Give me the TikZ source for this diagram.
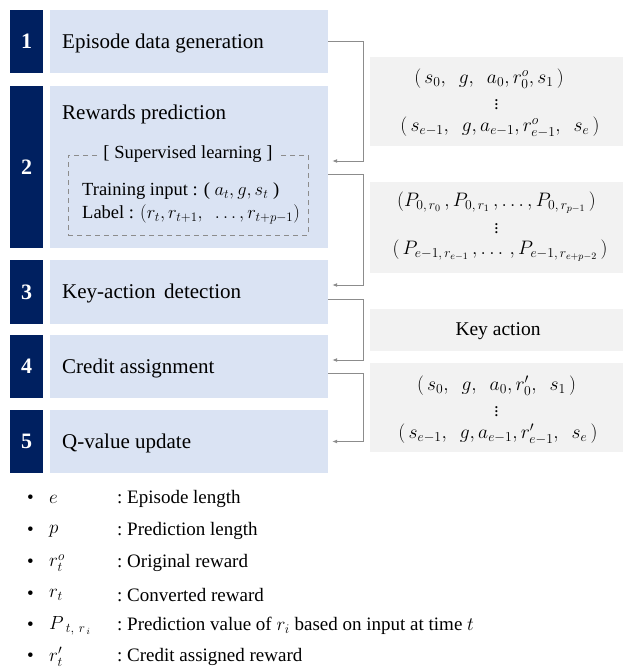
\RequirePackage{fix-cm}
\documentclass[tikz,border=0pt]{standalone}
\usepackage{fontspec}
\setmainfont{Liberation Serif}
\usetikzlibrary{arrows.meta,calc}
\definecolor{navy}{HTML}{002060}
\definecolor{lblue}{HTML}{DAE3F3}
\definecolor{lgray}{HTML}{F2F2F2}
\definecolor{cgray}{HTML}{8C8C8C}
\begin{document}
\begin{tikzpicture}[x=1pt,y=-1pt,
  num/.style={fill=navy, text=white, font=\fontsize{22}{24}\selectfont\bfseries, minimum width=33pt, inner sep=0},
  stepbox/.style={fill=lblue, minimum width=278pt, inner sep=0},
  steptext/.style={font=\fontsize{21}{24}\selectfont, anchor=west, inner sep=0},
  graybox/.style={fill=lgray, minimum width=253pt, inner sep=0},
  gtext/.style={font=\fontsize{19.5}{22}\selectfont, inner sep=0},
  gdots/.style={font=\fontsize{13}{14}\selectfont\bfseries, inner sep=0},
  sltext/.style={font=\fontsize{18.5}{21}\selectfont, anchor=west, inner sep=0},
  dashbox/.style={draw=cgray, dash pattern=on 5pt off 4pt, line width=0.9pt, minimum width=240pt, minimum height=80pt, inner sep=0},
  conn/.style={draw=cgray, line width=0.9pt, -{Latex[length=5pt,width=4pt]}, shorten >=4pt},
  leg/.style={font=\fontsize{19}{22}\selectfont, anchor=west, inner sep=0},
  bul/.style={font=\fontsize{19}{22}\selectfont, anchor=west, inner sep=0},
]
\useasboundingbox (0,0) rectangle (623,669);
% step numbers
\node[num, minimum height=63pt] (n1) at (26.5,41.5) {1};
\node[num, minimum height=162pt] (n2) at (26.5,167) {2};
\node[num, minimum height=64pt] (n3) at (26.5,292) {3};
\node[num, minimum height=63pt] (n4) at (26.5,366.5) {4};
\node[num, minimum height=63pt] (n5) at (26.5,441.5) {5};
% step boxes
\node[stepbox, minimum height=63pt] (b1) at (189,41.5) {};
\node[stepbox, minimum height=162pt] (b2) at (189,167) {};
\node[stepbox, minimum height=64pt] (b3) at (189,292) {};
\node[stepbox, minimum height=63pt] (b4) at (189,366.5) {};
\node[stepbox, minimum height=63pt] (b5) at (189,441.5) {};
\node[steptext] (t1) at (62,43) {Episode data generation};
\node[steptext] (t2) at (62,114) {Rewards prediction};
\node[steptext] (t3) at (62,293) {Key-action\, detection};
\node[steptext] (t4) at (62,368) {Credit assignment};
\node[steptext] (t5) at (62,443) {Q-value update};
% supervised learning box
\node[dashbox] (sl) at (188,195) {};
\node[fill=lblue, font=\fontsize{18.5}{21}\selectfont, inner xsep=4pt, inner ysep=0pt] (slt) at (sl.north) {[ Supervised learning ]};
\node[sltext] (sl1) at (82,191) {Training input : ( $a_t, g, s_t$ )};
\node[sltext] (sl2) at (82,214) {Label : $(r_t, r_{t+1},\ \ \ldots, r_{t+p-1})$};
% gray boxes
\node[graybox, minimum height=89pt] (g1) at (496.5,101.5) {};
\node[gtext] (g1a) at (489,79) {$(\,s_0,\ \ g,\ \ a_0, r_0^{o}, s_1\,)$};
\node[gdots] (g1b) at (496.5,102) {$\vdots$};
\node[gtext] (g1c) at (500,127) {$(\,s_{e-1},\ \ g, a_{e-1}, r_{e-1}^{o},\ \ s_e\,)$};
\node[graybox, minimum height=91pt] (g2) at (496.5,227.5) {};
\node[gtext] (g2a) at (496.5,203) {$(P_{0,\,r_0}\,, P_{0,\,r_1}\,, \ldots, P_{0,\,r_{p-1}}\,)$};
\node[gdots] (g2b) at (496.5,226) {$\vdots$};
\node[gtext] (g2c) at (500,251) {$(\,P_{e-1,\,r_{e-1}}\,, \ldots\,, P_{e-1,\,r_{e+p-2}}\,)$};
\node[graybox, minimum height=42pt] (g3) at (496.5,330) {};
\node[gtext] (g3a) at (498,331) {Key action};
\node[graybox, minimum height=89pt] (g4) at (496.5,407.5) {};
\node[gtext] (g4a) at (496.5,386) {$(\,s_0,\ \ g,\ \ a_0, r_0',\ \ s_1\,)$};
\node[gdots] (g4b) at (496.5,409) {$\vdots$};
\node[gtext] (g4c) at (498,434) {$(\,s_{e-1},\ \ g, a_{e-1}, r_{e-1}',\ \ s_e\,)$};
% connectors
\draw[conn] (b1.east) -- ++(35,0) |- ($(b2.east)+(0,-6)$);
\draw[conn] ($(b2.east)+(0,7)$) -- ++(35,0) |- ($(b3.east)+(0,-7)$);
\draw[conn] ($(b3.east)+(0,7)$) -- ++(35,0) |- ($(b4.east)+(0,-6.5)$);
\draw[conn] ($(b4.east)+(0,6.5)$) -- ++(35,0) |- (b5.east);
% legend
\foreach \i/\y/\s/\t in {1/499/{$e$}/{Episode length},
                          2/531/{$p$}/{Prediction length},
                          3/563/{$r_t^{o}$}/{Original reward},
                          4/595/{$r_t$}/{Converted reward},
                          5/626/{$P_{\ t,\ r_{\,i}}$}/{Prediction value of $r_i$ based on input at time $t$},
                          6/657/{$r_t'$}/{Credit assigned reward}}{
  \node[bul] (lb\i) at (27,\y) {•};
  \node[leg] (ls\i) at (49,\y) {\s};
  \node[leg] (lt\i) at (117,\y) {:\ \t};
}
\end{tikzpicture}
\end{document}
